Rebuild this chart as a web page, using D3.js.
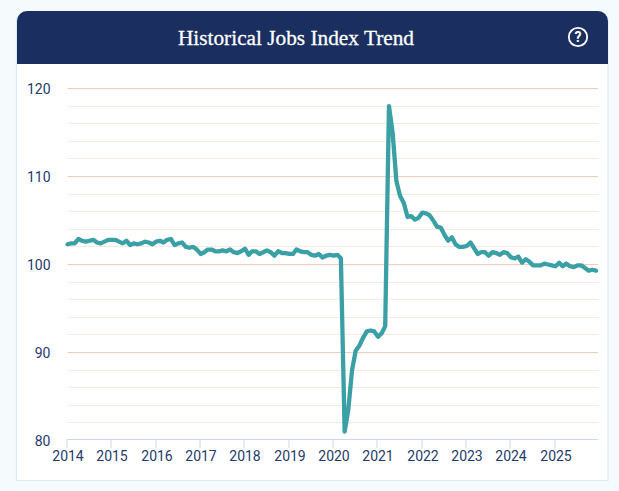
<!DOCTYPE html>
<html>
<head>
<meta charset="utf-8">
<script src="https://cdnjs.cloudflare.com/ajax/libs/d3/7.8.5/d3.min.js"></script>
<style>
  html, body { margin: 0; padding: 0; background: #f5fafc; overflow: hidden; }
  svg { display: block; }
  .tick text { font-family: Roboto, sans-serif; font-size: 14px; fill: #1f3a6b; }
</style>
</head>
<body>
<div id="chart"></div>
<script>
const title = "Historical Jobs Index Trend";
const startYear = 2014;
const yearTicks = [2014, 2015, 2016, 2017, 2018, 2019, 2020, 2021, 2022, 2023, 2024, 2025];
const yMajorTicks = [80, 90, 100, 110, 120];
const yMinorTicks = [82, 84, 86, 88, 92, 94, 96, 98, 102, 104, 106, 108, 112, 114, 116, 118];

// monthly index
const values2014 = [102.3, 102.4, 102.4, 102.9, 102.7, 102.6, 102.7, 102.8, 102.5, 102.4, 102.6, 102.8];
const values2015 = [102.8, 102.8, 102.6, 102.4, 102.7, 102.2, 102.4, 102.3, 102.4, 102.6, 102.5, 102.3];
const values2016 = [102.6, 102.7, 102.5, 102.8, 102.9, 102.2, 102.4, 102.5, 102.0, 101.9, 102.0, 101.7];
const values2017 = [101.2, 101.4, 101.7, 101.7, 101.5, 101.5, 101.6, 101.5, 101.7, 101.4, 101.3, 101.5];
const values2018 = [101.8, 101.1, 101.5, 101.5, 101.2, 101.4, 101.6, 101.4, 101.0, 101.5, 101.3, 101.3];
const values2019 = [101.2, 101.2, 101.7, 101.5, 101.4, 101.4, 101.1, 101.0, 101.2, 100.8, 101.0, 101.1];
const values2020 = [101.0, 101.1, 100.7, 81.0, 83.5, 88.0, 90.2, 90.8, 91.7, 92.4, 92.5, 92.4];
const values2021 = [91.8, 92.2, 93.0, 118.0, 115.0, 109.5, 107.8, 107.0, 105.4, 105.5, 105.1, 105.3];
const values2022 = [105.9, 105.8, 105.6, 105.0, 104.3, 104.2, 103.4, 102.7, 103.1, 102.3, 102.0, 102.0];
const values2023 = [102.1, 102.5, 101.9, 101.2, 101.4, 101.4, 101.0, 101.4, 101.3, 101.1, 101.4, 101.3];
const values2024 = [100.8, 100.7, 100.9, 100.2, 100.6, 100.3, 99.9, 99.9, 99.9, 100.1, 100.0, 99.9];
const values2025 = [99.8, 100.2, 99.8, 100.1, 99.8, 99.7, 99.9, 99.9, 99.6, 99.3, 99.4, 99.3];

const monthly = [].concat(values2014, values2015, values2016, values2017, values2018, values2019,
  values2020, values2021, values2022, values2023, values2024, values2025);
const data = monthly.map((v, i) => ({ date: new Date(Date.UTC(startYear, i, 1)), value: v }));

const width = 619, height = 491;
const plot = { left: 67.5, right: 598, top: 88.5, bottom: 440.5 };

const svg = d3.select("#chart").append("svg")
  .attr("width", width)
  .attr("height", height);

// card, square at the bottom
svg.append("path")
  .attr("d", "M16.5 480.5V21A10 10 0 0 1 27 11.5H598A10 10 0 0 1 608 21V480.5Z")
  .attr("fill", "#ffffff")
  .attr("stroke", "#d6ebf3")
  .attr("stroke-width", 1.2);

// header, rounded on top only
svg.append("path")
  .attr("d", "M17 64V21A10 10 0 0 1 27 11H598A10 10 0 0 1 608 21V64Z")
  .attr("fill", "#1a2e5f");

svg.append("text")
  .attr("x", 296)
  .attr("y", 45)
  .attr("text-anchor", "middle")
  .style("font-family", "'Liberation Serif', serif")
  .style("font-size", "21.3px")
  .attr("fill", "#ffffff")
  .attr("stroke", "#ffffff")
  .attr("stroke-width", 0.3)
  .text(title);

// help icon
svg.append("circle")
  .attr("cx", 578).attr("cy", 37).attr("r", 9.2)
  .attr("fill", "none").attr("stroke", "#ffffff").attr("stroke-width", 1.8);
svg.append("text")
  .attr("x", 578).attr("y", 42)
  .attr("text-anchor", "middle")
  .style("font-family", "Roboto, sans-serif")
  .style("font-size", "14px")
  .style("font-weight", "700")
  .attr("fill", "#ffffff")
  .text("?");

// scales, the time axis runs a little past the plot edge
const x = d3.scaleUtc()
  .domain([data[0].date, new Date(Date.UTC(2026, 0, 1))])
  .range([plot.left, 599.8]);
const y = d3.scaleLinear()
  .domain([80, 120])
  .range([plot.bottom, plot.top]);

// grid
svg.append("g").selectAll("line")
  .data(yMinorTicks)
  .join("line")
  .attr("x1", plot.left).attr("x2", plot.right)
  .attr("y1", d => Math.floor(y(d)) + 0.5).attr("y2", d => Math.floor(y(d)) + 0.5)
  .attr("stroke", "#f6e9e2");
svg.append("g").selectAll("line")
  .data(yMajorTicks.filter(d => d !== 80))
  .join("line")
  .attr("x1", plot.left).attr("x2", plot.right)
  .attr("y1", d => Math.floor(y(d)) + 0.5).attr("y2", d => Math.floor(y(d)) + 0.5)
  .attr("stroke", "#f2cbbb");

// axes
const xAxis = d3.axisBottom(x)
  .tickValues(yearTicks.map(yr => new Date(Date.UTC(yr, 0, 1))))
  .tickFormat(d3.utcFormat("%Y"))
  .tickSize(9)
  .tickSizeOuter(0)
  .tickPadding(3);
const xg = svg.append("g")
  .attr("transform", "translate(0,439)")
  .call(xAxis);
xg.select(".domain").remove();
xg.selectAll(".tick").attr("transform", d => `translate(${Math.floor(x(d) - 0.1)},0)`);
xg.selectAll(".tick line").attr("stroke", "#ccd6eb");
xg.selectAll(".tick text").attr("x", 1);
xg.append("line")
  .attr("x1", plot.left).attr("x2", plot.right)
  .attr("y1", 0.5).attr("y2", 0.5)
  .attr("stroke", "#ccd6eb");

const yAxis = d3.axisLeft(y)
  .tickValues(yMajorTicks)
  .tickFormat(d3.format("d"))
  .tickSize(0)
  .tickPadding(17);
const yg = svg.append("g")
  .attr("transform", `translate(${plot.left},0)`)
  .call(yAxis);
yg.select(".domain").remove();
yg.selectAll(".tick text").attr("y", 1);

// line
const line = d3.line()
  .x(d => x(d.date))
  .y(d => y(d.value));
svg.append("path")
  .datum(data)
  .attr("d", line)
  .attr("fill", "none")
  .attr("stroke", "#3ba0a5")
  .attr("stroke-width", 4.3)
  .attr("stroke-linejoin", "round")
  .attr("stroke-linecap", "round");
</script>
</body>
</html>
